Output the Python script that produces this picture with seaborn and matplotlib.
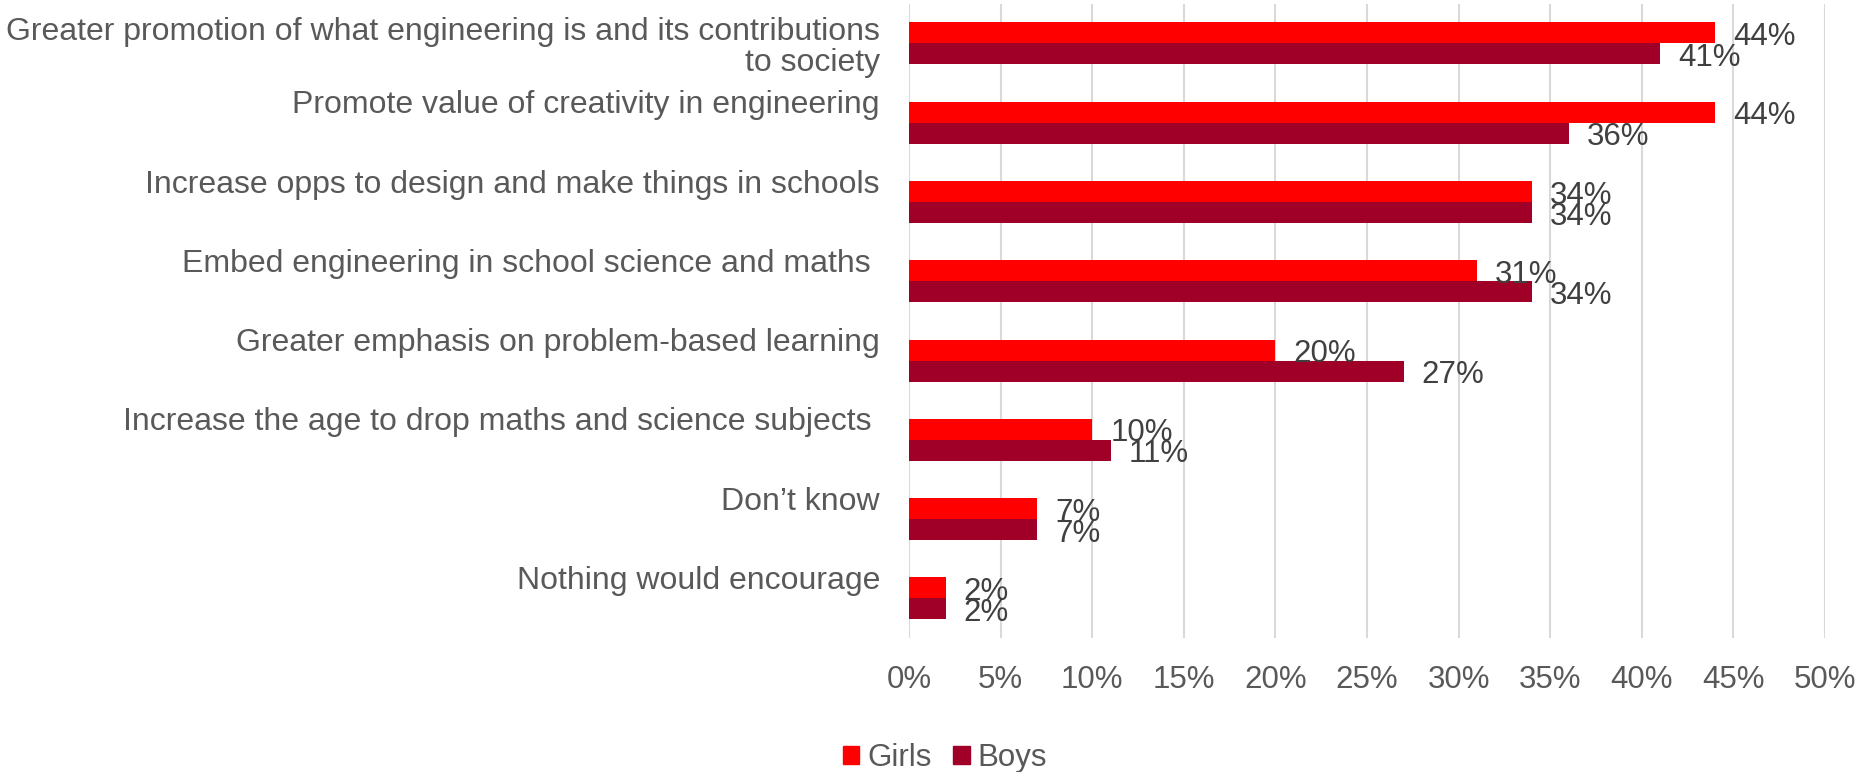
import matplotlib
matplotlib.use("Agg")
import matplotlib.pyplot as plt
import matplotlib.transforms as mtransforms
import seaborn as sns
import pandas as pd
from matplotlib.ticker import FuncFormatter

categories = [
    "Greater promotion of what engineering is and its contributions\nto society",
    "Promote value of creativity in engineering",
    "Increase opps to design and make things in schools",
    "Embed engineering in school science and maths ",
    "Greater emphasis on problem-based learning",
    "Increase the age to drop maths and science subjects ",
    "Don\u2019t know",
    "Nothing would encourage",
]
girls = [44, 44, 34, 31, 20, 10, 7, 2]
boys = [41, 36, 34, 34, 27, 11, 7, 2]
series_names = ["Girls", "Boys"]
colors = ["#FF0000", "#A00028"]
x_ticks = [0, 5, 10, 15, 20, 25, 30, 35, 40, 45, 50]

rows = []
for c, g, b in zip(categories, girls, boys):
    rows.append({"Category": c, "Gender": "Girls", "Value": g})
    rows.append({"Category": c, "Gender": "Boys", "Value": b})
df = pd.DataFrame(rows)

sns.set_theme(style="white")
plt.rcParams["font.family"] = ["Liberation Sans", "DejaVu Sans"]

fig = plt.figure(figsize=(18.64, 7.72), dpi=100)
ax = fig.add_axes([0.4877, 0.1736, 0.4914, 0.8214])

sns.barplot(data=df, y="Category", x="Value", hue="Gender", orient="h",
            palette=dict(zip(series_names, colors)), hue_order=series_names,
            width=0.53, gap=0, ax=ax, linewidth=0, saturation=1, errorbar=None)

ax.set_xlim(0, 50)
ax.set_xticks(x_ticks)
ax.xaxis.set_major_formatter(FuncFormatter(lambda v, p: f"{v:.0f}%"))
ax.grid(axis="x", color="#D9D9D9", linewidth=1.5)
ax.grid(axis="y", visible=False)
ax.set_axisbelow(True)
for s in ax.spines.values():
    s.set_visible(False)
ax.set_xlabel("")
ax.set_ylabel("")

ax.tick_params(axis="x", length=0, pad=19.5, labelsize=22.5, labelcolor="#595959")
ax.tick_params(axis="y", length=0, pad=21, labelsize=23, labelcolor="#595959")
ax.set_yticks(range(len(categories)))
ax.set_yticklabels(categories, ha="right", linespacing=1.03)

for cont in ax.containers:
    texts = ax.bar_label(cont, labels=[f"{v:.0f}%" for v in cont.datavalues],
                         padding=13, fontsize=22.5, color="#404040")
    for t in texts:
        t.xyann = (13, -3)

leg = ax.get_legend()
if leg is not None:
    leg.remove()
handles = [plt.Rectangle((0, 0), 1, 1, color=c) for c in colors]
fig.legend(handles, series_names, loc="center", bbox_to_anchor=(0.507, 0.018),
           ncol=2, frameon=False, fontsize=22.5, labelcolor="#595959",
           handlelength=0.52, handleheight=0.52, handletextpad=0.25,
           columnspacing=0.7)

fig.canvas.draw()
shift = mtransforms.ScaledTranslation(0, 15 / 72, fig.dpi_scale_trans)
for lbl in ax.yaxis.get_majorticklabels():
    if "\n" not in lbl.get_text():
        lbl.set_transform(lbl.get_transform() + shift)

fig.savefig("out.png", dpi=100)
